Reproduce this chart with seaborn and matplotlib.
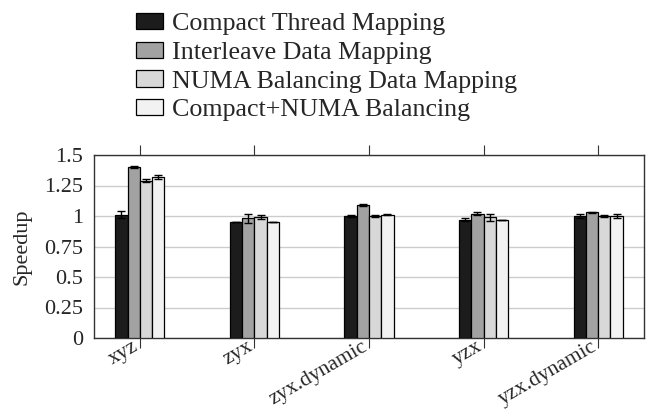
import numpy as np
import pandas as pd
import seaborn as sns
import matplotlib.pyplot as plt
import matplotlib.transforms as mtransforms

# Valeurs
benchmarks = ["xyz", "zyx", "zyx.dynamic", "yzx", "yzx.dynamic"]
mappings = ["Compact Thread Mapping", "Interleave Data Mapping",
            "NUMA Balancing Data Mapping", "Compact+NUMA Balancing"]

compact = [1.01, 0.95, 1.00, 0.97, 1.00]
interleave = [1.40, 0.98, 1.09, 1.02, 1.03]
numa_bal = [1.29, 0.99, 1.00, 0.99, 1.00]
compact_numa = [1.32, 0.95, 1.01, 0.97, 1.00]

err_compact = [0.03, 0.0, 0.01, 0.015, 0.015]
err_interleave = [0.01, 0.04, 0.01, 0.015, 0.005]
err_numa_bal = [0.015, 0.015, 0.005, 0.03, 0.005]
err_compact_numa = [0.015, 0.0, 0.005, 0.0, 0.015]

colors = ["#1c1c1c", "#a2a2a2", "#d8d8d8", "#f2f2f2"]

rows = []
for m, vals, errs in zip(mappings,
                         [compact, interleave, numa_bal, compact_numa],
                         [err_compact, err_interleave, err_numa_bal, err_compact_numa]):
    for b, v, e in zip(benchmarks, vals, errs):
        rows.append({"bench": b, "mapping": m, "speedup": v, "err": e})
df = pd.DataFrame(rows)

sns.set_style("white")
plt.rcParams["font.family"] = ["Liberation Serif", "DejaVu Serif"]

fig = plt.figure(figsize=(6.52, 4.09), dpi=100)
ax = fig.add_axes([94 / 652, 71 / 409, 550 / 652, 183 / 409])

sns.barplot(
    data=df, x="bench", y="speedup", hue="mapping",
    order=benchmarks, hue_order=mappings, palette=colors,
    width=0.43, errorbar=None, edgecolor="black", linewidth=0.9,
    saturation=1, ax=ax, zorder=3
)

# barres d'erreur
for cont, m in zip(ax.containers, mappings):
    sub = df[df["mapping"] == m].set_index("bench").loc[benchmarks]
    xs = [p.get_x() + p.get_width() / 2 for p in cont.patches]
    hs = [p.get_height() for p in cont.patches]
    ax.errorbar(xs, hs, yerr=sub["err"].values, fmt="none",
                ecolor="black", elinewidth=1, capsize=3, capthick=1, zorder=4)

ax.set_xlim(-0.4, 4.4)
ax.set_ylim(0, 1.5)
ax.set_yticks([0, 0.25, 0.5, 0.75, 1, 1.25, 1.5])
ax.set_yticklabels(["0", "0.25", "0.5", "0.75", "1", "1.25", "1.5"])
ax.yaxis.grid(True, color="#cccccc", linewidth=1, zorder=0)
ax.set_axisbelow(True)

ax.set_xlabel("")
ax.set_ylabel("Speedup", fontsize=16, labelpad=9)
ax.tick_params(axis="y", length=0, labelsize=16, pad=8)
ax.tick_params(axis="x", which="both", direction="out", length=7, width=0.8,
               color="#333333", top=True, bottom=True, labelsize=15.5, pad=0)
ax.set_xticks(range(len(benchmarks)))
ax.set_xticklabels(benchmarks, rotation=30, ha="right", va="top",
                   rotation_mode="anchor")
shift = mtransforms.ScaledTranslation(-5.5 / 72, 7.5 / 72, fig.dpi_scale_trans)
for lab in ax.get_xticklabels():
    lab.set_transform(lab.get_transform() + shift)

for s in ax.spines.values():
    s.set_color("#333333")
    s.set_linewidth(1)

ax.get_legend().remove()
handles = [plt.Rectangle((0, 0), 1, 1, facecolor=c, edgecolor="black", linewidth=0.9)
           for c in colors]
fig.legend(handles, mappings, loc="upper left",
           bbox_to_anchor=(136 / 652, 1 - 13 / 409), frameon=False,
           fontsize=18.7, handlelength=1.05, handleheight=0.6,
           handletextpad=0.35, labelspacing=0.24, borderpad=0, borderaxespad=0)

fig.savefig("out.png", dpi=100)
